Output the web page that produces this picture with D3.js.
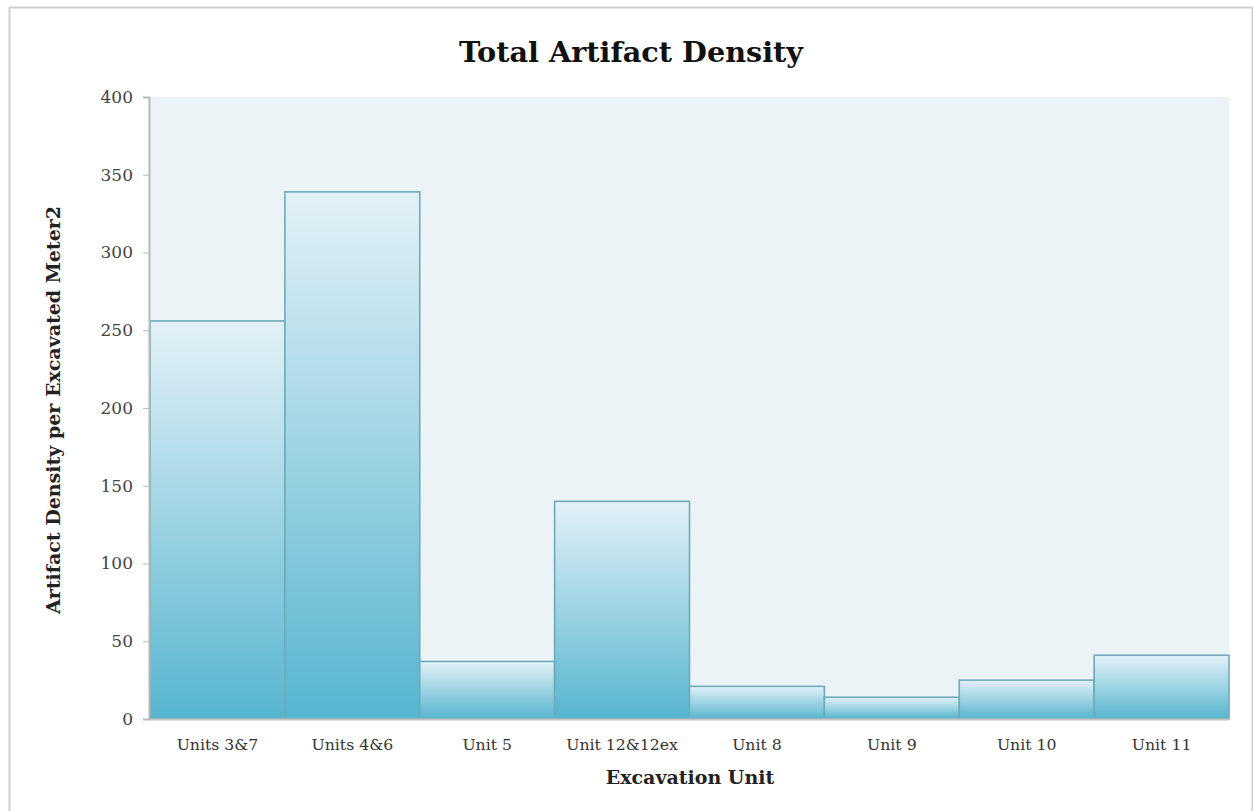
<!DOCTYPE html>
<html>
<head>
<meta charset="utf-8">
<script src="https://d3js.org/d3.v7.min.js"></script>
<style>
  html, body { margin: 0; padding: 0; background: #fff; }
  svg { display: block; }
  text { font-family: "DejaVu Serif", "Liberation Serif", serif; }
</style>
</head>
<body>
<script>
// Total artifact density by excavation unit
const categories = ["Units 3&7", "Units 4&6", "Unit 5", "Unit 12&12ex", "Unit 8", "Unit 9", "Unit 10", "Unit 11"];
const densities  = [256, 339, 37, 140, 21, 14, 25, 41];
const yTicks     = [0, 50, 100, 150, 200, 250, 300, 350, 400];

const W = 1253, H = 811;
const margin = { left: 150, top: 97, right: 24, bottom: 92 };
const innerW = W - margin.left - margin.right;
const innerH = H - margin.top - margin.bottom;
const serif = "\"DejaVu Serif\", \"Liberation Serif\", serif";

const svg = d3.select("body").append("svg").attr("width", W).attr("height", H);

// outer frame
svg.append("rect")
  .attr("x", 9.5).attr("y", 7.5).attr("width", W - 10).attr("height", H)
  .attr("fill", "#fff").attr("stroke", "#cfcfcf").attr("stroke-width", 2);

const defs = svg.append("defs");
const grad = defs.append("linearGradient").attr("id", "barFill")
  .attr("x1", 0).attr("y1", 0).attr("x2", 0).attr("y2", 1);
grad.append("stop").attr("offset", "0%").attr("stop-color", "#e3f1f7");
grad.append("stop").attr("offset", "100%").attr("stop-color", "#56b5cf");

const g = svg.append("g").attr("transform", `translate(${margin.left},${margin.top})`);

const x = d3.scaleBand().domain(categories).range([0, innerW]).padding(0);
const y = d3.scaleLinear().domain([0, 400]).range([innerH, 0]);

// plot background
g.append("rect").attr("width", innerW).attr("height", innerH).attr("fill", "#ecf3f7");

// bars
g.selectAll("rect.bar").data(densities).join("rect")
  .attr("class", "bar")
  .attr("x", (d, i) => x(categories[i]))
  .attr("y", d => y(d))
  .attr("width", x.bandwidth())
  .attr("height", d => innerH - y(d))
  .attr("fill", "url(#barFill)")
  .attr("stroke", "#6eaaba")
  .attr("stroke-width", 1.6);

// y axis
const yAxis = g.append("g").attr("transform", "translate(-1,0)")
  .call(d3.axisLeft(y).tickValues(yTicks).tickSize(6).tickPadding(10).tickFormat(d3.format("d")));
yAxis.select(".domain").attr("stroke", "#b8b8b8").attr("stroke-width", 2);
yAxis.selectAll(".tick line").attr("stroke", "#b8b8b8");
yAxis.selectAll(".tick text").attr("fill", "#444").style("font-size", "17px")
  .style("font-family", serif);

// x axis
const xAxis = g.append("g").attr("transform", `translate(0,${innerH})`)
  .call(d3.axisBottom(x).tickSize(0).tickPadding(20));
xAxis.select(".domain").attr("stroke", "#c4c4c4").attr("stroke-width", 2);
xAxis.selectAll(".tick text").attr("fill", "#333").style("font-size", "15.7px")
  .style("font-family", serif);

// titles
svg.append("text").attr("x", 631).attr("y", 62).attr("text-anchor", "middle")
  .style("font-size", "28.7px").style("font-weight", "bold").attr("fill", "#111")
  .text("Total Artifact Density");

svg.append("text").attr("x", 690).attr("y", 784).attr("text-anchor", "middle")
  .style("font-size", "19px").style("font-weight", "bold").attr("fill", "#222")
  .text("Excavation Unit");

svg.append("text").attr("transform", "translate(60,410) rotate(-90)").attr("text-anchor", "middle")
  .style("font-size", "19px").style("font-weight", "bold").attr("fill", "#222")
  .text("Artifact Density per Excavated Meter2");
</script>
</body>
</html>
